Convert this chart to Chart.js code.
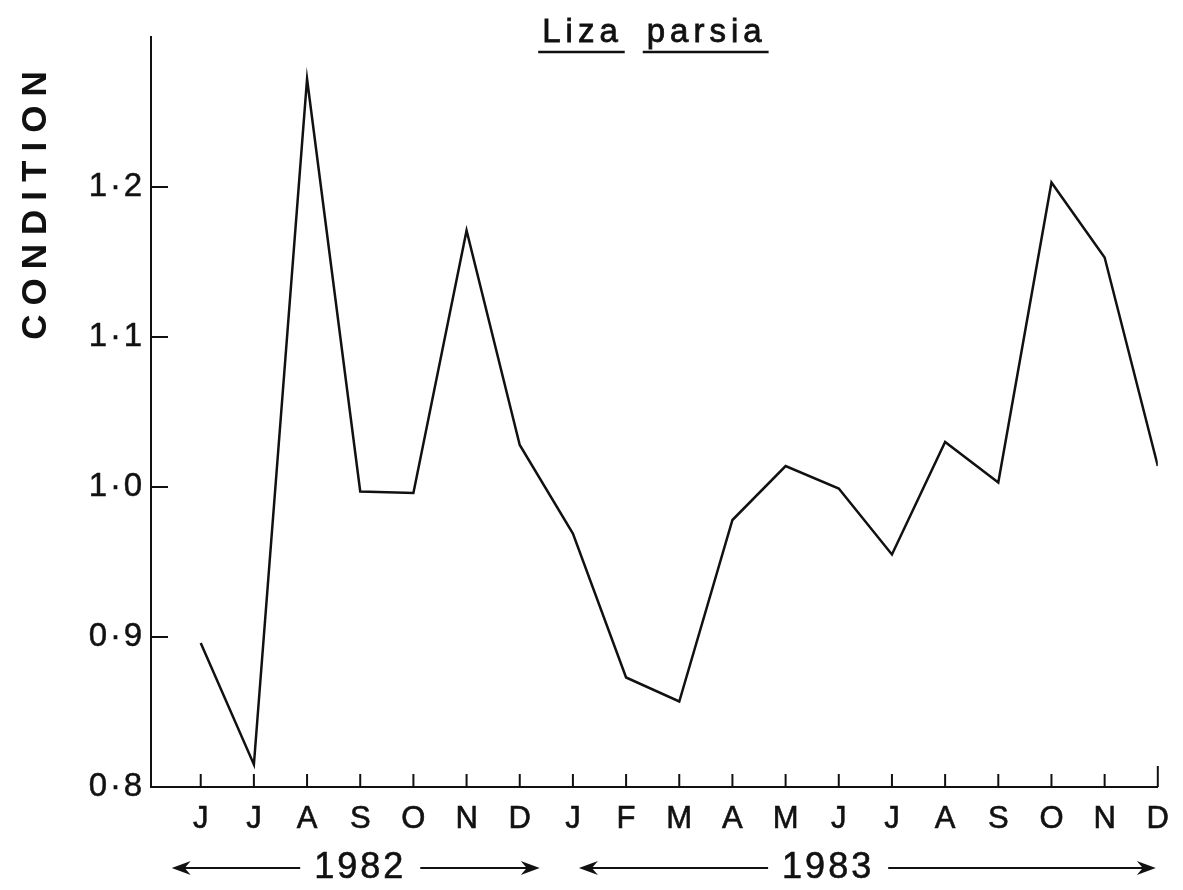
<!DOCTYPE html>
<html>
<head>
<meta charset="utf-8">
<title>Liza parsia – condition</title>
<script src="https://cdn.jsdelivr.net/npm/chart.js@4.4.1/dist/chart.umd.min.js"></script>
<style>
  html, body { margin: 0; padding: 0; background: #fff; }
  #wrap { width: 1183px; height: 890px; }
</style>
</head>
<body>
<div id="wrap"><canvas id="cond"></canvas></div>
<script>
/* monthly condition factor, Jun 1982 – Dec 1983 */
const MONTHS = ['J', 'J', 'A', 'S', 'O', 'N', 'D', 'J', 'F', 'M', 'A', 'M', 'J', 'J', 'A', 'S', 'O', 'N', 'D'];
const CONDITION = [0.896, 0.815, 1.272, 0.997, 0.996, 1.171, 1.028, 0.969, 0.873, 0.857,
                   0.978, 1.014, 0.999, 0.955, 1.030, 1.003, 1.203, 1.153, 1.014];
const Y_TICKS = [0.8, 0.9, 1.0, 1.1, 1.2];
const YEARS = [
  { label: '1982', from: 0, to: 6, centre: 3 },
  { label: '1983', from: 7, to: 18, centre: 11.8 }
];

const INK = '#111';
const FONT = '"Liberation Sans", Arial, sans-serif';

// filled text with a thin outline, closer to pen lettering
function letter(ctx, text, x, y, w = 1) {
  ctx.fillText(text, x, y);
  if (w > 0) {
    ctx.lineWidth = w;
    ctx.strokeText(text, x, y);
  }
}

/* ── hand-lettered extras: title, axis name, inward ticks, year arrows ── */
const decorations = {
  id: 'decorations',
  afterDraw(chart) {
    const { ctx, chartArea, scales: { x, y } } = chart;
    ctx.save();
    ctx.strokeStyle = INK;
    ctx.fillStyle = INK;
    ctx.lineWidth = 2;

    // inward tick marks
    Y_TICKS.forEach(v => {
      const py = y.getPixelForValue(v);
      ctx.beginPath();
      ctx.moveTo(chartArea.left, py);
      ctx.lineTo(chartArea.left + 17, py);
      ctx.stroke();
    });
    MONTHS.forEach((m, i) => {
      const px = x.getPixelForValue(i);
      const len = i === MONTHS.length - 1 ? 21 : 13;
      ctx.beginPath();
      ctx.moveTo(px, chartArea.bottom);
      ctx.lineTo(px, chartArea.bottom - len);
      ctx.stroke();
    });

    // title, each word underlined
    ctx.font = '33px ' + FONT;
    ctx.letterSpacing = '5px';
    ctx.textBaseline = 'alphabetic';
    ctx.textAlign = 'left';
    const words = ['Liza', 'parsia'];
    const gap = 24;
    const widths = words.map(w => ctx.measureText(w).width);
    const total = widths[0] + gap + widths[1];
    let tx = (chartArea.left + chartArea.right) / 2 - total / 2;
    words.forEach((w, i) => {
      letter(ctx, w, tx, 42, 0.8);
      ctx.lineWidth = 2.5;
      ctx.beginPath();
      ctx.moveTo(tx - 4, 52);
      ctx.lineTo(tx + widths[i] + 2, 52);
      ctx.stroke();
      tx += widths[i] + gap;
    });

    // axis name, reading upwards
    ctx.save();
    ctx.translate(36, 201);
    ctx.rotate(-Math.PI / 2);
    ctx.font = 'bold 35px ' + FONT;
    ctx.letterSpacing = '9px';
    ctx.textAlign = 'center';
    ctx.textBaseline = 'middle';
    ctx.fillText('CONDITION', 0, 0);
    ctx.restore();

    // year spans with arrows
    ctx.font = '36px ' + FONT;
    ctx.letterSpacing = '3px';
    ctx.textAlign = 'center';
    ctx.textBaseline = 'middle';
    const yy = 868;
    YEARS.forEach((yr, k) => {
      const cx = x.getPixelForValue(yr.centre);
      const half = ctx.measureText(yr.label).width / 2;
      letter(ctx, yr.label, cx, yy, 0.6);
      const left = x.getPixelForValue(yr.from) - (k === 0 ? 29 : -6);
      const right = x.getPixelForValue(yr.to) + (k === 0 ? 20 : -2);
      ctx.lineWidth = 2;
      arrow(ctx, cx - half - 14, left, yy);
      arrow(ctx, cx + half + 14, right, yy);
    });
    ctx.restore();
  }
};

function arrow(ctx, from, to, yy) {
  const dir = Math.sign(to - from);
  ctx.beginPath();
  ctx.moveTo(from, yy);
  ctx.lineTo(to - dir * 8, yy);
  ctx.stroke();
  ctx.beginPath();
  ctx.moveTo(to, yy);
  ctx.lineTo(to - dir * 19, yy - 7);
  ctx.lineTo(to - dir * 13, yy);
  ctx.lineTo(to - dir * 19, yy + 7);
  ctx.closePath();
  ctx.fill();
}

new Chart(document.getElementById('cond'), {
  type: 'line',
  data: {
    datasets: [{
      data: CONDITION.map((v, i) => ({ x: i, y: v })),
      borderColor: INK,
      borderWidth: 2.5,
      pointRadius: 0,
      tension: 0,
      fill: false
    }]
  },
  options: {
    responsive: true,
    maintainAspectRatio: false,
    animation: false,
    layout: { padding: { top: 37, right: 20, left: 0, bottom: 0 } },
    plugins: { legend: { display: false }, tooltip: { enabled: false } },
    scales: {
      x: {
        type: 'linear',
        min: -0.935,
        max: MONTHS.length - 1,
        afterBuildTicks: s => { s.ticks = MONTHS.map((_, i) => ({ value: i })); },
        afterFit: s => { s.height = 103; },
        grid: { display: false, drawTicks: false },
        border: { display: true, color: INK, width: 2 },
        ticks: {
          callback: v => MONTHS[v],
          maxRotation: 0,
          autoSkip: false,
          padding: 14,
          color: INK,
          textStrokeColor: INK,
          textStrokeWidth: 0.6,
          font: { family: FONT, size: 31 }
        }
      },
      y: {
        min: 0.8,
        max: 1.3,
        afterBuildTicks: s => { s.ticks = Y_TICKS.map(v => ({ value: v })); },
        afterFit: s => { s.width = 151; },
        grid: { display: false, drawTicks: false },
        border: { display: true, color: INK, width: 2 },
        ticks: {
          callback: v => v.toFixed(1).replace('.', '\u200a·\u200a'),
          padding: 9,
          color: INK,
          textStrokeColor: INK,
          textStrokeWidth: 0.5,
          font: { family: FONT, size: 33 }
        }
      }
    }
  },
  plugins: [decorations]
});
</script>
</body>
</html>
